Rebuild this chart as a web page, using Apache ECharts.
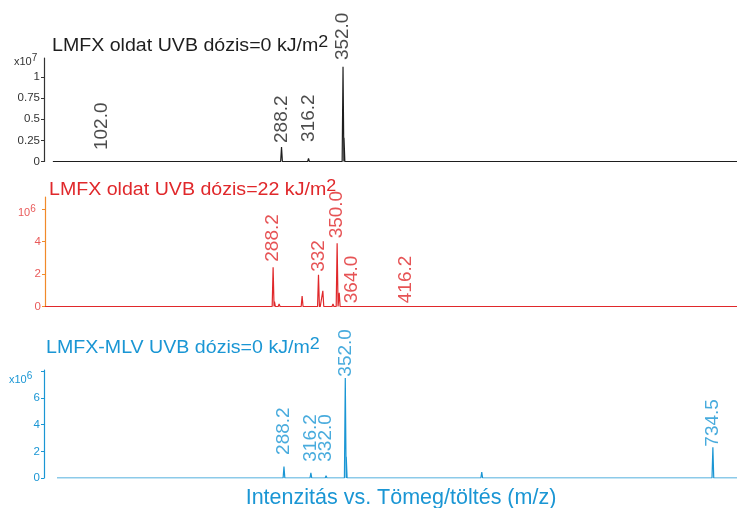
<!DOCTYPE html>
<html>
<head>
<meta charset="UTF-8">
<title>LMFX spektrumok</title>
<script src="https://cdn.jsdelivr.net/npm/echarts@6/dist/echarts.min.js"></script>
<style>
  html, body { margin: 0; padding: 0; background: #fff; }
</style>
</head>
<body>
<div id="main" style="width: 737px;height:508px;"></div>
<script type="text/javascript">
// csucsok (m/z) es intenzitasok, panelenkent
// 1. panel: LMFX oldat, 0 kJ/m2 (x10^7)
var peakMz1 = [102.0, 176, 288.2, 297, 316.2, 331, 352.0, 353.0, 373];
var peakH1  = [0.02, 0.008, 0.17, 0.01, 0.035, 0.01, 1.12, 0.28, 0.01];
var labelMz1 = [102.0, 288.2, 316.2, 352.0];
var labelAt1 = [0.136, 0.219, 0.231, 1.20];
var labelTx1 = ['102.0', '288.2', '316.2', '352.0'];
var ticks1 = [0, 0.25, 0.5, 0.75, 1];

// 2. panel: LMFX oldat, 22 kJ/m2 (x10^6)
var peakMz2 = [92, 166, 249.6, 288.2, 289.5, 294, 305, 307.5, 316.2, 326, 332.0, 332.8, 336.2, 346, 350.0, 352.0, 364.0, 372, 387.6, 416.2, 583.6, 659];
var peakH2  = [0.03, 0.04, 0.05, 2.42, 0.3, 0.15, 0.08, 0.1, 0.65, 0.1, 1.95, -0.32, 0.97, 0.15, 3.9, 0.85, 0.1, 0.08, 0.06, 0.08, 0.03, 0.03];
var labelMz2 = [288.2, 332.0, 350.0, 364.0, 416.2];
var labelAt2 = [2.76, 2.14, 4.2, 0.2, 0.2];
var labelTx2 = ['288.2', '332', '350.0', '364.0', '416.2'];
var ticks2 = [0, 2, 4];

// 3. panel: LMFX-MLV, 0 kJ/m2 (x10^6)
var peakMz3 = [176.9, 288.2, 316.2, 332.0, 352.0, 353.0, 374.6, 416, 494, 516, 734.5];
var peakH3  = [0.05, 0.85, 0.38, 0.17, 7.5, 1.6, 0.05, 0.05, 0.45, 0.05, 2.3];
var labelMz3 = [288.2, 316.2, 332.0, 352.0, 734.5];
var labelAt3 = [1.73, 1.22, 1.22, 7.6, 2.35];
var labelTx3 = ['288.2', '316.2', '332.0', '352.0', '734.5'];
var ticks3 = [0, 2, 4, 6];

var BLACK = '#1e1e1e', RED = '#e0282b', BLUE = '#1a96d4';
var FONT = "'Liberation Sans', Arial, sans-serif";

// vonalas spektrum: minden csucs keskeny haromszog az alapvonalon
function stick(mz, h, from, to) {
  var pts = [[from, 0]];
  for (var i = 0; i < mz.length; i++) {
    pts.push([mz[i] - 0.9, 0], [mz[i], h[i]], [mz[i] + 0.9, 0]);
  }
  pts.push([to, 0]);
  return pts;
}
function labels(mz, at, tx) {
  var out = [];
  for (var i = 0; i < mz.length; i++) out.push({ name: tx[i], value: [mz[i], at[i]] });
  return out;
}

function yAx(idx, max, interval, ticks, axisColor, labelColor) {
  return {
    gridIndex: idx, type: 'value', min: 0, max: max, interval: interval,
    axisLine: { show: true, lineStyle: { color: axisColor, width: 1.2 } },
    axisTick: { show: true, length: 3, lineStyle: { color: axisColor } },
    axisLabel: {
      color: labelColor, fontSize: 11.5, margin: 4, fontFamily: FONT, showMaxLabel: false,
      formatter: function (v) { return ticks.indexOf(+v.toFixed(2)) >= 0 ? String(+v.toFixed(2)) : ''; }
    },
    splitLine: { show: false }
  };
}
function xAx(idx, min, max) {
  return { gridIndex: idx, type: 'value', min: min, max: max, show: false };
}
function spec(idx, data, color) {
  return {
    type: 'line', xAxisIndex: idx, yAxisIndex: idx, data: data,
    showSymbol: false, symbol: 'none', animation: false,
    lineStyle: { color: color, width: 1.2 }
  };
}
function lab(idx, data, color) {
  return {
    type: 'scatter', xAxisIndex: idx, yAxisIndex: idx, data: data,
    symbolSize: 0, animation: false, clip: false,
    label: {
      show: true, formatter: '{b}', position: [0, 0], rotate: 90,
      align: 'left', verticalAlign: 'middle',
      color: color, fontSize: 19, fontFamily: FONT
    }
  };
}
function ttl(x, y, text, color) {
  return {
    type: 'text', x: x, y: y, scaleX: 1.12,
    style: {
      text: '{a|' + text + '}{s|2}',
      fill: color, verticalAlign: 'middle', align: 'left',
      rich: {
        a: { fontSize: 17.5, fontFamily: FONT, fill: color, lineHeight: 21, verticalAlign: 'bottom' },
        s: { fontSize: 16, fontFamily: FONT, fill: color, lineHeight: 21, verticalAlign: 'top' }
      }
    }
  };
}
function unit(x, y, base, exp, color) {
  return {
    type: 'text', x: x, y: y,
    style: {
      text: '{a|' + base + '}{s|' + exp + '}', verticalAlign: 'middle', align: 'left',
      rich: {
        a: { fontSize: 11, fontFamily: FONT, fill: color, lineHeight: 14, verticalAlign: 'bottom' },
        s: { fontSize: 10, fontFamily: FONT, fill: color, lineHeight: 14, verticalAlign: 'top' }
      }
    }
  };
}

var chartDom = document.getElementById('main');
var myChart = echarts.init(chartDom);
myChart.setOption({
  animation: false,
  grid: [
    { left: 44, right: 0, top: 58, height: 103.5 },
    { left: 45, right: 0, top: 197, height: 109.5 },
    { left: 44, right: 0, top: 370, height: 108 }
  ],
  xAxis: [xAx(0, 41.8, 760.7), xAx(1, 68, 736), xAx(2, 38.5, 759.6)],
  yAxis: [
    yAx(0, 1.225, 0.25, ticks1, '#333', '#333'),
    yAx(1, 6.75, 2, ticks2, '#f18a2a', '#e95a5a'),
    yAx(2, 8.1, 2, ticks3, BLUE, BLUE)
  ],
  series: [
    spec(0, stick(peakMz1, peakH1, 51, 760.7), BLACK),
    spec(1, stick(peakMz2, peakH2, 68, 736), RED),
    spec(2, stick(peakMz3, peakH3, 52, 759.6), BLUE),
    lab(0, labels(labelMz1, labelAt1, labelTx1), BLACK),
    lab(1, labels(labelMz2, labelAt2, labelTx2), RED),
    lab(2, labels(labelMz3, labelAt3, labelTx3), BLUE)
  ],
  graphic: [
    ttl(52, 45, 'LMFX oldat UVB dózis=0 kJ/m', BLACK),
    ttl(49, 189, 'LMFX oldat UVB dózis=22 kJ/m', RED),
    ttl(46, 347, 'LMFX-MLV UVB dózis=0 kJ/m', BLUE),
    unit(14, 60, 'x10', '7', '#333'),
    unit(18, 211, '10', '6', '#e95a5a'),
    unit(9, 378, 'x10', '6', BLUE),
    {
      type: 'text', x: 401, y: 498,
      style: { text: 'Intenzitás vs. Tömeg/töltés (m/z)', fill: BLUE, fontSize: 21.5, fontFamily: FONT, align: 'center', verticalAlign: 'middle' }
    }
  ]
});
</script>
</body>
</html>
